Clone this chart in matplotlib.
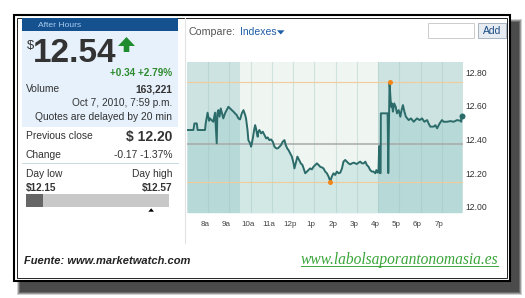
import matplotlib
matplotlib.use('Agg')
import matplotlib.pyplot as plt
from matplotlib.patches import Rectangle, Polygon
from matplotlib.transforms import blended_transform_factory, ScaledTranslation
import numpy as np

plt.rcParams['font.family'] = ['Liberation Sans', 'DejaVu Sans']

# ---------------- data ----------------
hours = [7.03, 7.30, 7.35, 7.46, 7.50, 7.85, 7.88, 7.97, 8.04, 8.08, 8.16, 8.24, 8.32, 8.40, 8.43,
         8.48, 8.53, 8.59, 8.67, 8.71, 8.79, 8.87, 8.95, 9.03, 9.11, 9.19, 9.26, 9.34, 9.42, 9.50,
         9.58, 9.66, 9.74, 9.78, 9.85, 9.89, 9.97, 10.02, 10.10, 10.16, 10.21, 10.25, 10.29, 10.33,
         10.36, 10.41, 10.49, 10.57, 10.65, 10.73, 10.80, 10.88, 10.96, 11.04, 11.12, 11.20, 11.28,
         11.36, 11.43, 11.51, 11.59, 11.65, 11.72, 11.78, 11.86, 11.94, 12.02, 12.06, 12.14, 12.20,
         12.28, 12.36, 12.44, 12.52, 12.57, 12.65, 12.72, 12.80, 12.88, 12.96, 13.04, 13.12, 13.20,
         13.27, 13.35, 13.43, 13.51, 13.59, 13.67, 13.75, 13.82, 13.90, 13.98, 14.06, 14.14, 14.22,
         14.30, 14.37, 14.45, 14.53, 14.61, 14.69, 14.77, 14.85, 14.92, 15.00, 15.08, 15.16, 15.24,
         15.32, 15.40, 15.47, 15.55, 15.63, 15.71, 15.79, 15.87, 15.92, 15.98, 16.02, 16.05, 16.08,
         16.12, 16.13, 16.45, 16.48, 16.54, 16.61, 16.65, 16.70, 16.76, 16.83, 16.89, 16.97, 17.05,
         17.09, 17.17, 17.24, 17.31, 17.44, 17.55, 17.68, 17.83, 17.96, 18.07, 18.18, 18.31, 18.38,
         18.46, 18.62, 18.70, 18.78, 18.90, 19.01, 19.09, 19.25, 19.41, 19.56, 19.72, 19.88, 19.92,
         19.93]
prices = [12.456, 12.456, 12.495, 12.495, 12.456, 12.456, 12.495, 12.559, 12.511, 12.525, 12.515,
          12.505, 12.559, 12.377, 12.555, 12.574, 12.535, 12.584, 12.545, 12.525, 12.555, 12.574,
          12.594, 12.584, 12.574, 12.565, 12.555, 12.545, 12.525, 12.519, 12.555, 12.574, 12.545,
          12.525, 12.456, 12.396, 12.377, 12.357, 12.406, 12.456, 12.485, 12.466, 12.436, 12.416,
          12.446, 12.456, 12.436, 12.446, 12.426, 12.406, 12.412, 12.396, 12.400, 12.387, 12.357,
          12.347, 12.347, 12.357, 12.367, 12.387, 12.396, 12.367, 12.347, 12.337, 12.317, 12.298,
          12.258, 12.228, 12.268, 12.298, 12.278, 12.258, 12.248, 12.218, 12.199, 12.209, 12.218,
          12.228, 12.222, 12.238, 12.248, 12.258, 12.248, 12.238, 12.234, 12.228, 12.209, 12.199,
          12.179, 12.150, 12.179, 12.199, 12.189, 12.209, 12.199, 12.203, 12.228, 12.268, 12.278,
          12.268, 12.258, 12.252, 12.258, 12.262, 12.258, 12.254, 12.262, 12.268, 12.258, 12.258,
          12.268, 12.248, 12.238, 12.218, 12.209, 12.209, 12.199, 12.218, 12.203, 12.209, 12.360,
          12.200, 12.200, 12.555, 12.555, 12.200, 12.740, 12.594, 12.614, 12.565, 12.614, 12.594,
          12.555, 12.574, 12.535, 12.565, 12.604, 12.565, 12.535, 12.515, 12.525, 12.505, 12.525,
          12.515, 12.525, 12.505, 12.515, 12.495, 12.476, 12.476, 12.485, 12.466, 12.495, 12.515,
          12.505, 12.505, 12.509, 12.505, 12.515, 12.511, 12.505, 12.540]
hour_ticks = [8, 9, 10, 11, 12, 13, 14, 15, 16, 17, 18, 19]
hour_labels = ['8a', '9a', '10a', '11a', '12p', '1p', '2p', '3p', '4p', '5p', '6p', '7p']
y_ticks = [12.00, 12.20, 12.40, 12.60, 12.80]
prev_close_ref = 12.37
session_start, premarket_end, afterhours_start, session_end = 7.0, 9.5, 16.0, 20.0
y_min, y_max = 11.963, 12.86

# ---------------- figure ----------------
W, H = 525, 298
fig = plt.figure(figsize=(W / 100, H / 100), dpi=100)
bg = fig.add_axes([0, 0, 1, 1])
bg.set_xlim(0, W)
bg.set_ylim(H, 0)
bg.axis('off')

# drop shadow
for g, a in [(3, 0.2), (2, 0.3), (1, 0.35), (0, 0.4)]:
    bg.add_patch(Rectangle((20 - g, 22 - g), 499 + 2 * g, 270 + 2 * g, fc='#1a1a1a', alpha=a, lw=0))
# frame
bg.add_patch(Rectangle((13.5, 14.5), 496, 266, fc='white', ec='black', lw=1.5))
bg.add_patch(Rectangle((16.5, 17.5), 490, 260, fill=False, ec='#222222', lw=0.7))

# left panel
bg.add_patch(Rectangle((22, 18), 155.5, 12.5, fc='#15508f', lw=0))
bg.add_patch(Rectangle((22, 30.5), 155.5, 96.5, fc='#e6f1fb', lw=0))
bg.plot([185, 185], [17.5, 243], color='#e2e2e2', lw=0.8)

txt = '#333333'
bg.text(38.3, 26.7, 'After Hours', fontsize=6.1, color='#a9cdf0', va='baseline')
bg.text(27, 48.5, '$', fontsize=9.4, color=txt, va='baseline')
bg.text(33, 62, '12.54', fontsize=24, fontweight='bold', color=txt, va='baseline')
bg.add_patch(Polygon([(118, 46), (126.5, 37), (135, 46), (129.3, 46), (129.3, 52), (123.7, 52), (123.7, 46)],
                     closed=True, fc='#1e8c2e', lw=0))
R = 172.3
bg.text(R, 75.8, '+0.34 +2.79%', fontsize=7.2, fontweight='bold', color='#2e8b2e', ha='right', va='baseline')
bg.text(26, 92.5, 'Volume', fontsize=7.4, color=txt, va='baseline')
bg.text(R, 92.5, '163,221', fontsize=7.4, fontweight='bold', color=txt, ha='right', va='baseline')
bg.text(R, 105.6, 'Oct 7, 2010, 7:59 p.m.', fontsize=7.3, color=txt, ha='right', va='baseline')
bg.text(R, 120.3, 'Quotes are delayed by 20 min', fontsize=7.4, color=txt, ha='right', va='baseline')
bg.text(26, 139.2, 'Previous close', fontsize=7.4, color=txt, va='baseline')
bg.text(R, 141, '$ 12.20', fontsize=10, fontweight='bold', color=txt, ha='right', va='baseline')
bg.text(26, 157.8, 'Change', fontsize=7.4, color=txt, va='baseline')
bg.text(R, 157.8, '-0.17 -1.37%', fontsize=7.4, color=txt, ha='right', va='baseline')
bg.plot([22, 177.5], [162.7, 162.7], color='#c9d9e3', lw=0.7)
bg.text(26, 176.8, 'Day low', fontsize=7.4, color=txt, va='baseline')
bg.text(R, 176.8, 'Day high', fontsize=7.4, color=txt, ha='right', va='baseline')
bg.text(26, 191.3, '$12.15', fontsize=7.2, fontweight='bold', color=txt, va='baseline')
bg.text(R, 191.3, '$12.57', fontsize=7.2, fontweight='bold', color=txt, ha='right', va='baseline')
bg.add_patch(Rectangle((26, 194.3), 143, 12.4, fc='#c8c8c8', lw=0))
bg.add_patch(Rectangle((26, 194.3), 17.3, 12.4, fc='#666666', lw=0))
bg.add_patch(Polygon([(148.3, 211.7), (151.2, 208.3), (154, 211.7)], closed=True, fc='black', lw=0))

# right panel header
bg.text(188.5, 35.3, 'Compare:', fontsize=7.7, color='#555555', va='baseline')
bg.text(240, 35.3, 'Indexes', fontsize=7.5, color='#1f5ea8', va='baseline')
bg.add_patch(Polygon([(277, 30.3), (284.5, 30.3), (280.75, 34.5)], closed=True, fc='#1f5ea8', lw=0))
bg.add_patch(Rectangle((428.3, 23), 45.7, 14.5, fc='white', ec='#cccccc', lw=0.7))
bg.add_patch(Rectangle((478.3, 23.3), 27.7, 15, fc='#e6ecf2', ec='#a8b4c0', lw=0.7))
bg.text(492.2, 34.5, 'Add', fontsize=7.5, color='#1d4f86', ha='center', va='baseline')

# footer
bg.text(24, 263.5, 'Fuente: www.marketwatch.com', fontsize=8, fontweight='bold', fontstyle='italic',
        color='#222222', va='baseline')
web = bg.text(498.3, 263.5, 'www.labolsaporantonomasia.es', fontsize=11.2, fontstyle='italic',
              family=['Liberation Serif'], color='#3aa53a', ha='right', va='baseline')

# ---------------- chart ----------------
ax = fig.add_axes([187 / W, (H - 213) / H, 276 / W, 151 / H])
ax.set_xlim(session_start, session_end)
ax.set_ylim(y_min, y_max)
ax.axvspan(session_start, premarket_end, color='#cde3e1', lw=0, zorder=0)
ax.axvspan(premarket_end, afterhours_start, color='#eff6f2', lw=0, zorder=0)
ax.axvspan(afterhours_start, session_end, color='#cde3e1', lw=0, zorder=0)
ax.fill_between(hours, prices, y_min, color='#5fb3b3', alpha=0.2, lw=0, zorder=1)
ax.set_axisbelow('line')
ax.set_xticks(hour_ticks)
ax.set_xticklabels([])
ax.grid(axis='x', color='#9fc4c0', alpha=0.4, lw=0.8)
ax.grid(axis='y', visible=False)

p = np.array(prices)
h = np.array(hours)
ax.axhline(prev_close_ref, color='#a9a9a9', lw=1.1, zorder=2)
ax.axhline(p.max(), color='#f2cc98', lw=0.8, zorder=2)
ax.axhline(p.min(), color='#f2cc98', lw=0.8, zorder=2)
ax.plot(h, p, color='#2b6b69', lw=1.4, solid_joinstyle='round', zorder=3)
ax.plot(h[p.argmax()], p.max(), 'o', ms=3.6, color='#f0861a', mec='none', zorder=4)
ax.plot(h[p.argmin()], p.min(), 'o', ms=3.6, color='#f0861a', mec='none', zorder=4)
ax.plot(h[-1], p[-1], 'o', ms=4.3, color='#2b6b69', mec='none', zorder=4, clip_on=False)

ax.yaxis.tick_right()
ax.set_yticks(y_ticks)
ax.set_yticklabels([f'{v:.2f}' for v in y_ticks])
ax.tick_params(axis='y', length=0, pad=1.5, labelsize=6.2, labelcolor='#333333')
ax.tick_params(axis='x', length=0)
for s in ax.spines.values():
    s.set_visible(False)

trans = blended_transform_factory(ax.transData, ax.transAxes) + \
    ScaledTranslation(-3 / 100, 0, fig.dpi_scale_trans)
for hv, lab in zip(hour_ticks, hour_labels):
    ax.text(hv, -0.075, lab, transform=trans, fontsize=5.8, color='#444444', ha='center', va='center')

# underline for website text
fig.canvas.draw()
bb = web.get_window_extent()
bg.plot([bb.x0, bb.x1], [266.4, 266.4], color='#3aa53a', lw=0.7)

fig.savefig('out.png', dpi=100)
